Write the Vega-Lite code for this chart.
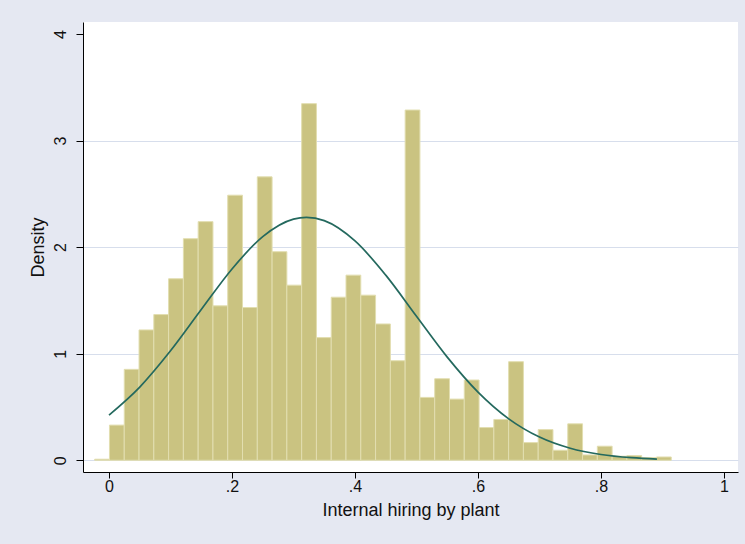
{
  "$schema": "https://vega.github.io/schema/vega-lite/v6.json",
  "width": 655,
  "height": 450,
  "autosize": {"type": "none"},
  "padding": {"left": 83, "top": 22, "right": 7, "bottom": 72},
  "background": "#e5e8f2",
  "config": {
    "view": {"stroke": null, "fill": "white"},
    "font": "Liberation Sans",
    "axis": {
      "labelFont": "Liberation Sans",
      "titleFont": "Liberation Sans",
      "labelFontSize": 16,
      "titleFontSize": 18,
      "labelColor": "#111111",
      "titleColor": "#111111",
      "titleFontWeight": "normal",
      "domainColor": "#000000",
      "tickColor": "#000000",
      "domainWidth": 1,
      "tickWidth": 1,
      "tickSize": 7
    }
  },
  "datasets": {
    "bars": [
      {"start": -0.0233, "end": 0.00074, "density": 0.01},
      {"start": 0.00074, "end": 0.02478, "density": 0.33},
      {"start": 0.02478, "end": 0.04882, "density": 0.853},
      {"start": 0.04882, "end": 0.07286, "density": 1.223},
      {"start": 0.07286, "end": 0.0969, "density": 1.367},
      {"start": 0.0969, "end": 0.12094, "density": 1.703},
      {"start": 0.12094, "end": 0.14498, "density": 2.079},
      {"start": 0.14498, "end": 0.16902, "density": 2.239},
      {"start": 0.16902, "end": 0.19306, "density": 1.449},
      {"start": 0.19306, "end": 0.2171, "density": 2.487},
      {"start": 0.2171, "end": 0.24114, "density": 1.433},
      {"start": 0.24114, "end": 0.26518, "density": 2.659},
      {"start": 0.26518, "end": 0.28922, "density": 1.957},
      {"start": 0.28922, "end": 0.31326, "density": 1.643},
      {"start": 0.31326, "end": 0.3373, "density": 3.346},
      {"start": 0.3373, "end": 0.36134, "density": 1.151},
      {"start": 0.36134, "end": 0.38538, "density": 1.53},
      {"start": 0.38538, "end": 0.40942, "density": 1.737},
      {"start": 0.40942, "end": 0.43346, "density": 1.549},
      {"start": 0.43346, "end": 0.4575, "density": 1.279},
      {"start": 0.4575, "end": 0.48154, "density": 0.934},
      {"start": 0.48154, "end": 0.50558, "density": 3.286},
      {"start": 0.50558, "end": 0.52962, "density": 0.59},
      {"start": 0.52962, "end": 0.55366, "density": 0.765},
      {"start": 0.55366, "end": 0.5777, "density": 0.574},
      {"start": 0.5777, "end": 0.60174, "density": 0.753},
      {"start": 0.60174, "end": 0.62578, "density": 0.307},
      {"start": 0.62578, "end": 0.64982, "density": 0.383},
      {"start": 0.64982, "end": 0.67386, "density": 0.925},
      {"start": 0.67386, "end": 0.6979, "density": 0.166},
      {"start": 0.6979, "end": 0.72194, "density": 0.288},
      {"start": 0.72194, "end": 0.74598, "density": 0.094},
      {"start": 0.74598, "end": 0.77002, "density": 0.342},
      {"start": 0.77002, "end": 0.79406, "density": 0.05},
      {"start": 0.79406, "end": 0.8181, "density": 0.132},
      {"start": 0.8181, "end": 0.84214, "density": 0.038},
      {"start": 0.84214, "end": 0.86618, "density": 0.044},
      {"start": 0.86618, "end": 0.89022, "density": 0.025},
      {"start": 0.89022, "end": 0.91426, "density": 0.031}
    ],
    "curve": [
      {"x": 0.0, "density": 0.424},
      {"x": 0.05, "density": 0.687},
      {"x": 0.1, "density": 1.027},
      {"x": 0.15, "density": 1.414},
      {"x": 0.2, "density": 1.795},
      {"x": 0.25, "density": 2.099},
      {"x": 0.3, "density": 2.263},
      {"x": 0.321, "density": 2.279},
      {"x": 0.35, "density": 2.248},
      {"x": 0.4, "density": 2.058},
      {"x": 0.45, "density": 1.737},
      {"x": 0.5, "density": 1.351},
      {"x": 0.55, "density": 0.968},
      {"x": 0.6, "density": 0.64},
      {"x": 0.65, "density": 0.389},
      {"x": 0.7, "density": 0.218},
      {"x": 0.75, "density": 0.113},
      {"x": 0.8, "density": 0.054},
      {"x": 0.85, "density": 0.024},
      {"x": 0.891, "density": 0.011}
    ]
  },
  "layer": [
    {
      "data": {"name": "bars"},
      "mark": {"type": "rect", "fill": "#cac381", "stroke": "#e2deb0", "strokeWidth": 1},
      "encoding": {
        "x": {
          "field": "start", "type": "quantitative",
          "scale": {"domain": [-0.0423, 1.0228], "nice": false, "zero": false},
          "axis": {
            "values": [0, 0.2, 0.4, 0.6, 0.8, 1],
            "labelExpr": "datum.value == 0 ? '0' : datum.value == 1 ? '1' : replace(format(datum.value, '.1f'), '0.', '.')",
            "title": "Internal hiring by plant",
            "grid": false,
            "tickSize": 6,
            "labelPadding": 0,
            "titlePadding": 7
          }
        },
        "x2": {"field": "end"},
        "y": {
          "field": "density", "type": "quantitative",
          "scale": {"domain": [-0.11, 4.112], "nice": false, "zero": false},
          "axis": {
            "values": [0, 1, 2, 3, 4],
            "labelExpr": "format(datum.value, 'd')",
            "title": "Density",
            "labelAngle": -90,
            "labelAlign": "center",
            "labelBaseline": "bottom",
            "labelPadding": 8,
            "titlePadding": 5,
            "grid": true,
            "gridColor": "#d7deec",
            "gridWidth": 1.2,
            "gridOpacity": {"condition": {"test": "datum.value == 4", "value": 0}, "value": 1}
          }
        },
        "y2": {"datum": 0}
      }
    },
    {
      "data": {"name": "curve"},
      "mark": {"type": "line", "color": "#24695e", "strokeWidth": 1.7, "interpolate": "monotone"},
      "encoding": {
        "x": {"field": "x", "type": "quantitative"},
        "y": {"field": "density", "type": "quantitative"}
      }
    }
  ]
}
